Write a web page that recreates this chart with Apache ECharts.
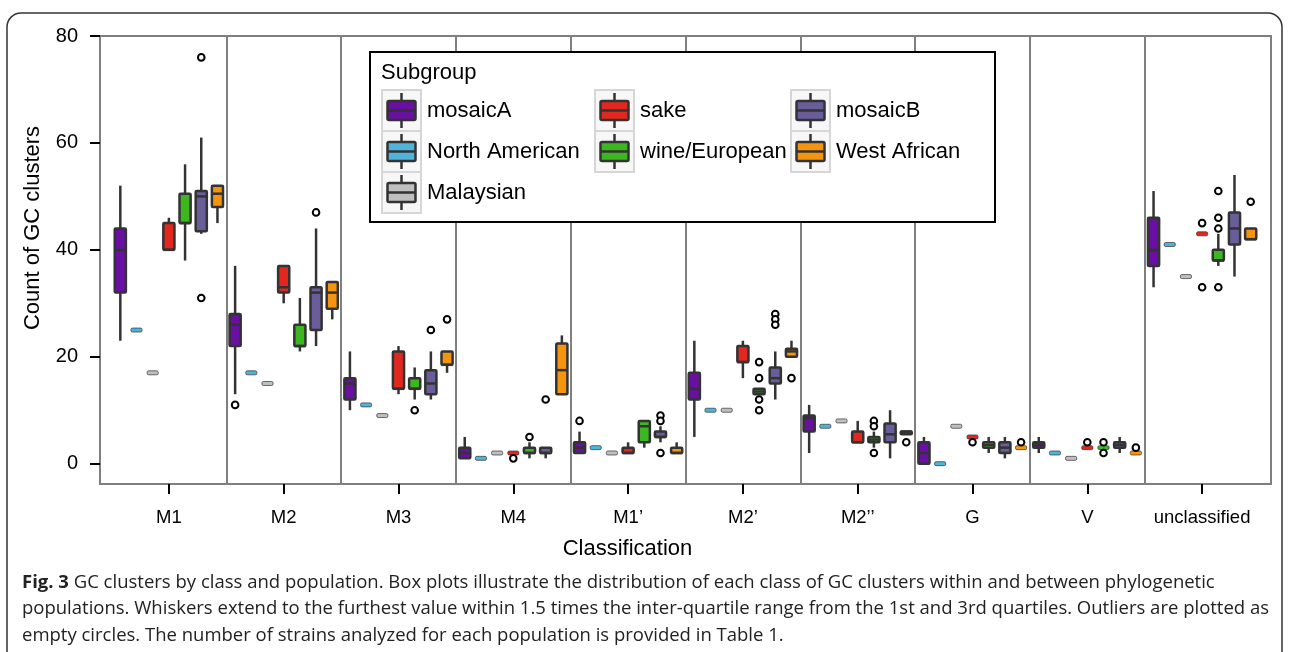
<!DOCTYPE html>
<html><head><meta charset="utf-8">
<script src="https://cdn.jsdelivr.net/npm/echarts@6/dist/echarts.min.js"></script>
<style>html,body{margin:0;padding:0;background:#fff}#c{width:1289px;height:652px}</style>
</head><body><div id="c"></div>
<script>
// ---------- data ----------
const categories = ['M1', 'M2', 'M3', 'M4', 'M1\u2019', 'M2\u2019', 'M2\u2019\u2019', 'G', 'V', 'unclassified'];
const subgroups = ['mosaicA', 'North American', 'Malaysian', 'sake', 'wine/European', 'mosaicB', 'West African'];
const yTicks = [0, 20, 40, 60, 80];

// box stats per category: [min, Q1, median, Q3, max]
const mosaicA = [[23,32,40,44,52],[13,22,26,28,37],[10,12,15,16,21],[1,1,2,3,5],[2,2,3,4,6],[5,12,14,17,23],[2,6,8.5,9,11],[0,0,2,4,5],[2,3,3.5,4,5],[33,37,40,46,51]];
const northAmerican = [25,17,11,1,3,10,7,0,2,41];
const malaysian = [17,15,9,2,2,10,8,7,1,35];
const sake = [[40,40,40,45,46],[30,32,33,37,37],[13,14,14,21,22],[2,2,2,2,2],[2,2,2,3,4],[16,19,19,22,23],[4,4,4,6,8],[5,5,5,5,5],[3,3,3,3,3],[43,43,43,43,43]];
const wineEuropean = [[38,45,45,50.5,56],[21,22,22,26,31],[12,14,14,16,18],[1,2,2,3,4],[3,4,7,8,8],[13,13,13.5,14,14],[3,4,4.5,5,6],[2,3,3.5,4,5],[3,3,3,3,3],[37,38,38,40,43]];
const mosaicB = [[43,43.5,50,51,61],[22,25,32,33,44],[12,13,15,17.5,21],[1,2,2,3,3],[4,5,5,6,7],[12,15,16,18,21],[1,4,5.5,7.5,10],[1,2,3,4,5],[2,3,3.5,4,5],[35,41,44,47,54]];
const westAfrican = [[45,48,50.5,52,52],[27,29,32,34,34],[17,18.5,18.5,21,21],[13,13,17.5,22.5,24],[2,2,2,3,4],[20,20,21,21.5,23],[5.5,5.5,6,6,6],[3,3,3,3,3],[2,2,2,2,2],[42,42,42,44,44]];

// outliers: [category, value]
const mosaicAOut = [['M2',11],['M1\u2019',8]];
const northAmericanOut = [];
const malaysianOut = [];
const sakeOut = [['M4',1],['G',4],['V',4],['unclassified',45],['unclassified',33]];
const wineEuropeanOut = [['M3',10],['M4',5],['M2\u2019',19],['M2\u2019',16],['M2\u2019',12],['M2\u2019',10],['M2\u2019\u2019',8],['M2\u2019\u2019',7],['M2\u2019\u2019',2],['V',4],['V',2],['unclassified',51],['unclassified',46],['unclassified',44],['unclassified',33]];
const mosaicBOut = [['M1',76],['M1',31],['M2',47],['M3',25],['M4',12],['M1\u2019',9],['M1\u2019',8],['M1\u2019',2],['M2\u2019',28],['M2\u2019',27],['M2\u2019',26]];
const westAfricanOut = [['M3',27],['M2\u2019',16],['M2\u2019\u2019',4],['G',4],['V',3],['unclassified',49]];

// ---------- styling ----------
const colors = ['#6a0fa3', '#4fb3dc', '#bfbfbf', '#e2281e', '#3db71f', '#6a5e9a', '#f5950f'];
const FONT = 'Liberation Sans, Arial, sans-serif';
const STROKE = '#333333';
const OFFSET = 0.141;   // dodge step in category units
const BOXW = 0.097;     // box width in category units

const boxSets = [mosaicA, northAmerican.map(v => [v,v,v,v,v]), malaysian.map(v => [v,v,v,v,v]), sake, wineEuropean, mosaicB, westAfrican];
const outSets = [mosaicAOut, northAmericanOut, malaysianOut, sakeOut, wineEuropeanOut, mosaicBOut, westAfricanOut];

function boxRender(sIdx) {
  return function (params, api) {
    const cat = api.value(0);
    const v = [api.value(1), api.value(2), api.value(3), api.value(4), api.value(5)];
    const unit = api.size([1, 0])[0];
    const cx = api.coord([cat, 0])[0] + (sIdx - 3) * unit * OFFSET;
    const w = unit * BOXW;
    const y = v.map(val => api.coord([cat, val])[1]);
    const ch = [];
    if (v[4] > v[3]) ch.push({type: 'line', shape: {x1: cx, y1: y[4], x2: cx, y2: y[3]}, style: {stroke: STROKE, lineWidth: 2.5}});
    if (v[0] < v[1]) ch.push({type: 'line', shape: {x1: cx, y1: y[1], x2: cx, y2: y[0]}, style: {stroke: STROKE, lineWidth: 2.5}});
    if (v[1] === v[3]) {
      ch.push({type: 'rect', shape: {x: cx - w / 2, y: y[2] - 2, width: w, height: 4, r: 1.5}, style: {fill: colors[sIdx], stroke: STROKE, lineWidth: 0.7}});
    } else {
      ch.push({type: 'rect', shape: {x: cx - w / 2, y: y[3], width: w, height: y[1] - y[3], r: 1}, style: {fill: colors[sIdx], stroke: STROKE, lineWidth: 2.5}});
      ch.push({type: 'line', shape: {x1: cx - w / 2, y1: y[2], x2: cx + w / 2, y2: y[2]}, style: {stroke: STROKE, lineWidth: 2.5}});
    }
    return {type: 'group', children: ch};
  };
}
function outRender(sIdx) {
  return function (params, api) {
    const cat = api.value(0);
    const unit = api.size([1, 0])[0];
    const p = api.coord([cat, api.value(1)]);
    return {type: 'circle', shape: {cx: p[0] + (sIdx - 3) * unit * OFFSET, cy: p[1], r: 3.3}, style: {fill: '#fff', stroke: '#000', lineWidth: 2}};
  };
}

const series = [];
series.push({
  type: 'line', data: [], silent: true, z: 1,
  markLine: {silent: true, symbol: 'none', label: {show: false}, animation: false, z: 1,
    lineStyle: {color: '#7f7f7f', width: 2, type: 'solid'},
    data: categories.slice(1).map((c, i) => ({xAxis: i + 1.5}))}
});
subgroups.forEach((name, s) => {
  series.push({
    type: 'custom', name: name, renderItem: boxRender(s), clip: false, z: 3,
    encode: {x: 0, y: [1, 2, 3, 4, 5]},
    data: boxSets[s].map((b, i) => [i + 1].concat(b))
  });
  series.push({
    type: 'custom', name: name + ' outliers', renderItem: outRender(s), z: 4,
    encode: {x: 0, y: 1},
    data: outSets[s].map(o => [categories.indexOf(o[0]) + 1, o[1]])
  });
});

// ---------- legend (graphic) ----------
const ZL = 200;
const legendEls = [];
legendEls.push({type: 'rect', z: ZL, shape: {x: 370, y: 52, width: 625, height: 170}, style: {fill: '#fff', stroke: '#000', lineWidth: 2}});
legendEls.push({type: 'text', z: ZL + 1, x: 381, y: 73, style: {text: 'Subgroup', font: '22px ' + FONT, fill: '#000', verticalAlign: 'middle'}});
const colX = [382, 595, 791];
const rowY = [90, 131, 172];
subgroups.forEach((name, i) => {
  const col = i < 3 ? 0 : (i < 5 ? 1 : 2);
  const row = i < 3 ? i : (i < 5 ? i - 3 : i - 5);
  const kx = colX[col], ky = rowY[row];
  const cx = kx + 19.5, cy = ky + 20.5;
  legendEls.push({type: 'rect', z: ZL + 1, shape: {x: kx, y: ky, width: 39, height: 41}, style: {fill: '#f7f7f7', stroke: '#d6d6d6', lineWidth: 2}});
  legendEls.push({type: 'line', z: ZL + 2, shape: {x1: cx, y1: ky + 3, x2: cx, y2: ky + 38}, style: {stroke: STROKE, lineWidth: 2.5}});
  legendEls.push({type: 'rect', z: ZL + 3, shape: {x: cx - 14, y: cy - 9.5, width: 28, height: 19, r: 1.5}, style: {fill: colors[i], stroke: STROKE, lineWidth: 2.5}});
  legendEls.push({type: 'line', z: ZL + 4, shape: {x1: cx - 14, y1: cy, x2: cx + 14, y2: cy}, style: {stroke: STROKE, lineWidth: 2.5}});
  legendEls.push({type: 'text', z: ZL + 1, x: kx + 45, y: cy, style: {text: name, font: '22px ' + FONT, fill: '#000', verticalAlign: 'middle'}});
});

const captionLines = [
  'GC clusters by class and population. Box plots illustrate the distribution of each class of GC clusters within and between phylogenetic',
  'populations. Whiskers extend to the furthest value within 1.5 times the inter-quartile range from the 1st and 3rd quartiles. Outliers are plotted as',
  'empty circles. The number of strains analyzed for each population is provided in Table 1.'
];

const chart = echarts.init(document.getElementById('c'), null, {renderer: 'canvas'});
chart.setOption({
  animation: false,
  backgroundColor: '#fff',
  grid: {left: 100, right: 18, top: 36, bottom: 168, show: true, borderColor: '#7f7f7f', borderWidth: 2, backgroundColor: 'transparent'},
  xAxis: {
    type: 'value', min: 0.4, max: 10.6,
    axisLine: {show: false, onZero: false}, splitLine: {show: false},
    axisTick: {show: true, inside: false, length: 10, lineStyle: {color: '#000', width: 2}, customValues: categories.map((c, i) => i + 1)},
    axisLabel: {customValues: categories.map((c, i) => i + 1), formatter: v => categories[Math.round(v) - 1] || '', fontSize: 18.5, color: '#000', fontFamily: FONT, margin: 24},
    name: 'Classification', nameLocation: 'middle', nameGap: 54,
    nameTextStyle: {fontSize: 22, color: '#000', fontFamily: FONT, padding: [0, 116, 0, 0]}
  },
  yAxis: {
    type: 'value', min: -3.8, max: 80,
    axisLine: {show: false, onZero: false}, splitLine: {show: false},
    axisTick: {show: true, inside: false, length: 10, lineStyle: {color: '#000', width: 2}, customValues: yTicks},
    axisLabel: {customValues: yTicks, fontSize: 20, color: '#000', fontFamily: FONT, margin: 22},
    name: 'Count of GC clusters', nameLocation: 'middle', nameGap: 56, nameRotate: 90,
    nameTextStyle: {fontSize: 22, color: '#000', fontFamily: FONT, padding: [0, 0, 0, 64]}
  },
  graphic: [
    {type: 'rect', z: 0, silent: true, shape: {x: 7, y: 13, width: 1275, height: 700, r: 14}, style: {fill: 'none', stroke: '#333', lineWidth: 1.5}},
    {type: 'group', z: ZL, children: legendEls},
    {type: 'text', z: ZL, left: 22, top: 569, style: {
      text: '{b|Fig. 3} ' + captionLines.join('\n'),
      font: '18.5px "Open Sans", sans-serif', fill: '#222', lineHeight: 26.5,
      rich: {b: {font: 'bold 18.5px "Open Sans", sans-serif', fill: '#222', lineHeight: 26.5}}
    }}
  ],
  series: series
});
</script></body></html>
